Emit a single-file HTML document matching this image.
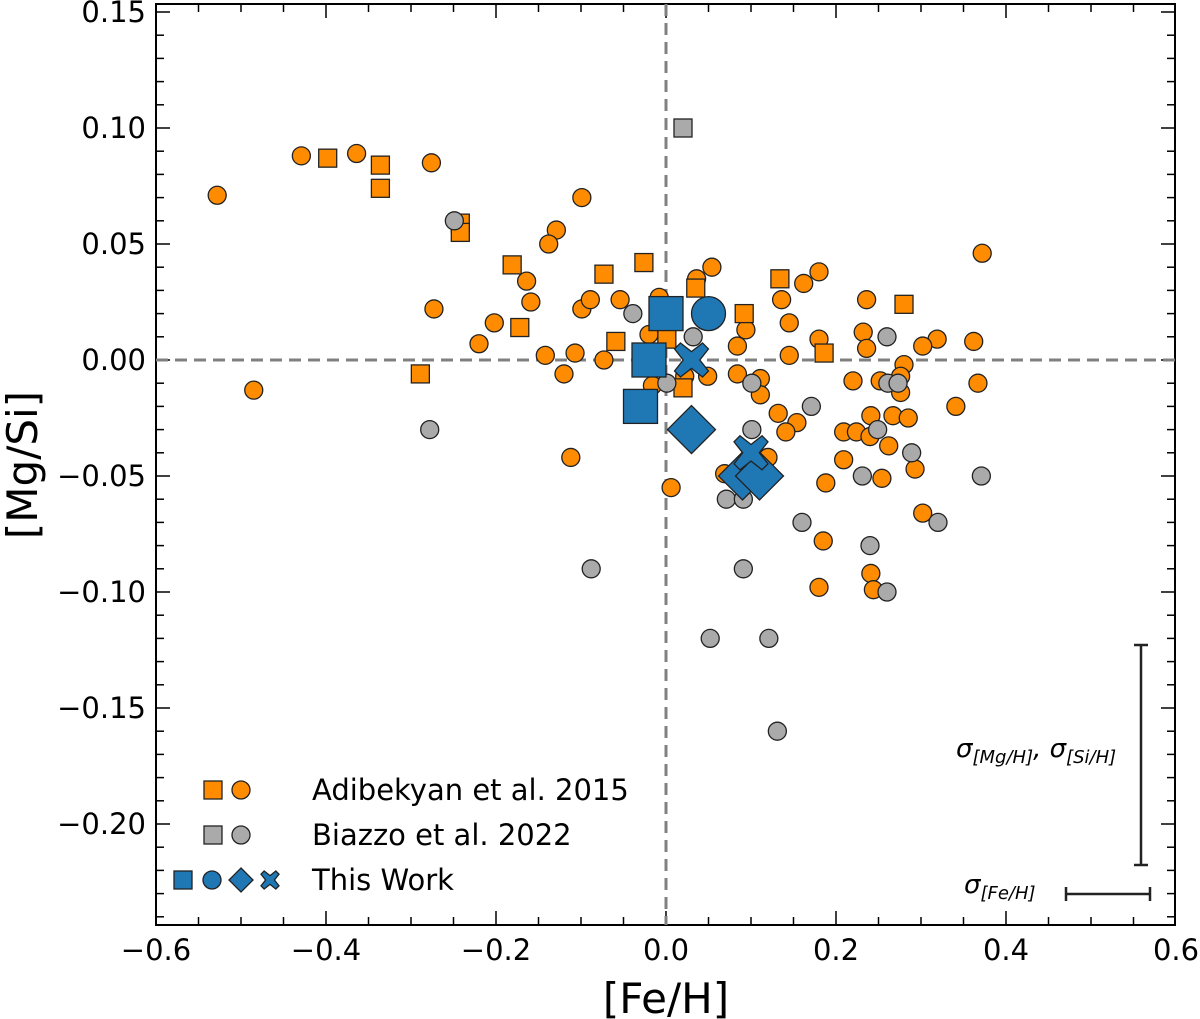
<!DOCTYPE html>
<html><head><meta charset="utf-8"><style>
body{margin:0;background:#fff}
svg{display:block;font-family:"DejaVu Sans","Liberation Sans",sans-serif}
</style></head><body>
<svg id="chart" width="1200" height="1019" viewBox="0 0 1200 1019" xmlns="http://www.w3.org/2000/svg"></svg>
<script>
const xTicks=[-0.6,-0.4,-0.2,0.0,0.2,0.4,0.6];
const xTickLabels=["\u22120.6","\u22120.4","\u22120.2","0.0","0.2","0.4","0.6"];
const yTicks=[0.15,0.10,0.05,0.00,-0.05,-0.10,-0.15,-0.20];
const yTickLabels=["0.15","0.10","0.05","0.00","\u22120.05","\u22120.10","\u22120.15","\u22120.20"];
const adiCircX=[-0.528,-0.429,-0.364,-0.276,-0.273,-0.485,-0.220,-0.202,-0.164,-0.159,-0.129,-0.138,-0.099,-0.142,-0.120,-0.107,-0.099,-0.089,-0.054,-0.073,-0.112,-0.020,-0.008,0.372,0.036,0.054,-0.016,0.022,0.049,0.094,0.084,0.084,0.111,0.111,0.136,0.145,0.162,0.180,0.180,0.145,0.236,0.232,0.236,0.319,0.302,0.362,0.280,0.276,0.276,0.252,0.220,0.367,0.132,0.154,0.141,0.241,0.267,0.285,0.341,0.209,0.224,0.240,0.262,0.209,0.293,0.254,0.188,0.120,0.069,0.006,0.302,0.185,0.241,0.180,0.244];
const adiCircY=[0.071,0.088,0.089,0.085,0.022,-0.013,0.007,0.016,0.034,0.025,0.056,0.050,0.070,0.002,-0.006,0.003,0.022,0.026,0.026,0.000,-0.042,0.011,0.027,0.046,0.035,0.040,-0.011,-0.007,-0.007,0.013,0.006,-0.006,-0.008,-0.015,0.026,0.016,0.033,0.038,0.009,0.002,0.026,0.012,0.005,0.009,0.006,0.008,-0.002,-0.007,-0.014,-0.009,-0.009,-0.010,-0.023,-0.027,-0.031,-0.024,-0.024,-0.025,-0.020,-0.031,-0.031,-0.033,-0.037,-0.043,-0.047,-0.051,-0.053,-0.042,-0.049,-0.055,-0.066,-0.078,-0.092,-0.098,-0.099];
const adiSqX=[-0.398,-0.336,-0.336,-0.242,-0.242,-0.181,-0.172,-0.289,-0.073,-0.026,-0.059,0.035,0.092,0.134,0.186,0.280,0.001,0.020];
const adiSqY=[0.087,0.084,0.074,0.059,0.055,0.041,0.014,-0.006,0.037,0.042,0.008,0.031,0.020,0.035,0.003,0.024,0.009,-0.012];
const biaCircX=[-0.249,-0.278,-0.039,0.032,0.001,0.101,0.171,0.101,0.249,0.260,0.261,0.273,0.289,0.371,0.231,0.071,0.091,0.160,0.320,0.240,-0.088,0.091,0.260,0.052,0.121,0.131];
const biaCircY=[0.060,-0.030,0.020,0.010,-0.010,-0.010,-0.020,-0.030,-0.030,0.010,-0.010,-0.010,-0.040,-0.050,-0.050,-0.060,-0.060,-0.070,-0.070,-0.080,-0.090,-0.090,-0.100,-0.120,-0.120,-0.160];
const biaSqX=[0.02];
const biaSqY=[0.10];
const twSqX=[0.00,-0.02,-0.03], twSqY=[0.02,0.00,-0.02];
const twCircX=[0.05], twCircY=[0.02];
const twDiaX=[0.03,0.09,0.11], twDiaY=[-0.03,-0.05,-0.05];
const twXX=[0.03,0.10], twXY=[0.00,-0.04];

const L=156,R=1175,T=4,B=925;
const sx=v=>666+v*850;
const sy=v=>360-v*2320;
const NS="http://www.w3.org/2000/svg";
const svg=document.getElementById('chart');
function mk(tag,attrs,parent){const e=document.createElementNS(NS,tag);for(const k in attrs)e.setAttribute(k,attrs[k]);(parent||svg).appendChild(e);return e;}
const OR="#ff8c00",GR="#aaaaaa",BL="#1f77b4";
const frame=mk('rect',{x:L,y:T,width:R-L,height:B-T,fill:'none',stroke:'#000','stroke-width':2});


for(let i=-12;i<=12;i++){const v=i*0.05;const x=sx(v);if(x<L||x>R)continue;const maj=(i%4===0);const len=maj?14:8;
 mk('line',{x1:x,y1:B,x2:x,y2:B-len,stroke:'#000','stroke-width':1.5});
 mk('line',{x1:x,y1:T,x2:x,y2:T+len,stroke:'#000','stroke-width':1.5});}
for(let i=-24;i<=15;i++){const v=i*0.01;const y=sy(v);if(y<T||y>B)continue;const maj=(i%5===0);const len=maj?14:8;
 mk('line',{x1:L,y1:y,x2:L+len,y2:y,stroke:'#000','stroke-width':1.5});
 mk('line',{x1:R,y1:y,x2:R-len,y2:y,stroke:'#000','stroke-width':1.5});}
xTicks.forEach((v,i)=>{const t=mk('text',{x:sx(v),y:960,'font-size':29,'text-anchor':'middle',fill:'#000'});t.textContent=xTickLabels[i];
 
 });
yTicks.forEach((v,i)=>{const t=mk('text',{x:146,y:sy(v)+10,'font-size':29,'text-anchor':'end',fill:'#000'});t.textContent=yTickLabels[i];
 
 });
const xt=mk('text',{x:666,y:1013,'font-size':42,'text-anchor':'middle'});xt.textContent='[Fe/H]';


const yt=mk('text',{x:0,y:0,'font-size':42,'text-anchor':'middle',transform:'translate(37,465) rotate(-90)'});yt.textContent='[Mg/Si]';


mk('line',{x1:sx(0),y1:T,x2:sx(0),y2:B,stroke:'#808080','stroke-width':3,'stroke-dasharray':'12 7'});
mk('line',{x1:L,y1:sy(0),x2:R,y2:sy(0),stroke:'#808080','stroke-width':3,'stroke-dasharray':'12 7'});
function circle(cx,cy,r,fill,name){const c=mk('circle',{cx,cy,r,fill,stroke:'#222','stroke-width':1.3});return c;}
function square(cx,cy,s,fill,name){const c=mk('rect',{x:cx-s/2,y:cy-s/2,width:s,height:s,fill,stroke:'#222','stroke-width':1.3});return c;}
function diamond(cx,cy,r,fill,name){const c=mk('polygon',{points:`${cx},${cy-r} ${cx+r},${cy} ${cx},${cy+r} ${cx-r},${cy}`,fill,stroke:'#222','stroke-width':1.3});return c;}
function cross(cx,cy,r,fill,name){const w=r*0.35,a=r;const pts=[[0,-w*1.4],[a-w,-a],[a,-a+w],[w*1.4,0],[a,a-w],[a-w,a],[0,w*1.4],[-a+w,a],[-a,a-w],[-w*1.4,0],[-a,-a+w],[-a+w,-a]].map(p=>(cx+p[0])+','+(cy+p[1])).join(' ');
 const c=mk('polygon',{points:pts,fill,stroke:'#222','stroke-width':1.3});return c;}
adiCircX.forEach((v,i)=>circle(sx(v),sy(adiCircY[i]),9,OR,'adibekyan-circle-point'));
adiSqX.forEach((v,i)=>square(sx(v),sy(adiSqY[i]),18,OR,'adibekyan-square-point'));
biaCircX.forEach((v,i)=>circle(sx(v),sy(biaCircY[i]),9,GR,'biazzo-circle-point'));
biaSqX.forEach((v,i)=>square(sx(v),sy(biaSqY[i]),18,GR,'biazzo-square-point'));
twSqX.forEach((v,i)=>square(sx(v),sy(twSqY[i]),34,BL,'this-work-square-point'));
twCircX.forEach((v,i)=>circle(sx(v),sy(twCircY[i]),17,BL,'this-work-circle-point'));
twDiaX.forEach((v,i)=>diamond(sx(v),sy(twDiaY[i]),24,BL,'this-work-diamond-point'));
twXX.forEach((v,i)=>cross(sx(v),sy(twXY[i]),17,BL,'this-work-x-point'));
const g=mk('g',{stroke:'#222','stroke-width':2.5});


mk('line',{x1:1141,y1:645,x2:1141,y2:865},g);mk('line',{x1:1134,y1:645,x2:1148,y2:645},g);mk('line',{x1:1134,y1:865,x2:1148,y2:865},g);
mk('line',{x1:1066,y1:894,x2:1150,y2:894},g);mk('line',{x1:1066,y1:887,x2:1066,y2:901},g);mk('line',{x1:1150,y1:887,x2:1150,y2:901},g);
const e1=mk('text',{x:956,y:757,'font-size':26,'font-style':'italic'});
e1.innerHTML='σ<tspan font-size="18" dy="6">[Mg/H]</tspan><tspan dy="-6">, σ</tspan><tspan font-size="18" dy="6">[Si/H]</tspan>';


const e2=mk('text',{x:964,y:893,'font-size':26,'font-style':'italic'});
e2.innerHTML='σ<tspan font-size="18" dy="6">[Fe/H]</tspan>';


square(213,790,18,OR,'legend-adibekyan-square');circle(241,790,9,OR,'legend-adibekyan-circle');
square(213,835,18,GR,'legend-biazzo-square');circle(241,835,9,GR,'legend-biazzo-circle');
square(183,880,18,BL,'legend-tw-square');circle(212,880,9,BL,'legend-tw-circle');diamond(241,880,12,BL,'legend-tw-diamond');cross(270,880,9,BL,'legend-tw-x');
[['Adibekyan et al. 2015',800],['Biazzo et al. 2022',845],['This Work',890]].forEach(([s,y])=>{const t=mk('text',{x:312,y,'font-size':29});t.textContent=s;
 
 });
</script>
</body></html>
